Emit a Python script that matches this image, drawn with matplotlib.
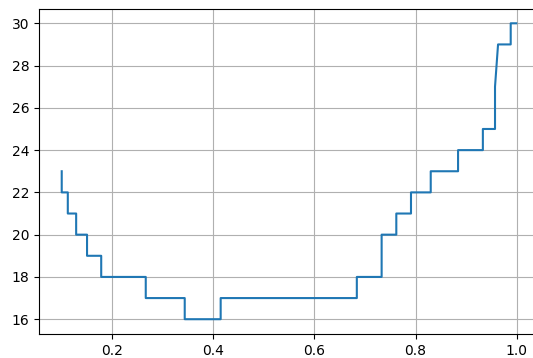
import matplotlib
matplotlib.use("Agg")
import matplotlib.pyplot as plt

# Вершины ступенчатой линии
x_vals = [0.101, 0.101, 0.113, 0.113, 0.1295, 0.1295, 0.151, 0.151, 0.179, 0.179,
          0.267, 0.267, 0.344, 0.344, 0.415, 0.415, 0.684, 0.684, 0.733, 0.733,
          0.762, 0.762, 0.791, 0.791, 0.830, 0.830, 0.884, 0.884, 0.933, 0.933,
          0.957, 0.957, 0.963, 0.988, 0.988, 0.999]
y_vals = [23, 22, 22, 21, 21, 20, 20, 19, 19, 18,
          18, 17, 17, 16, 16, 17, 17, 18, 18, 20,
          20, 21, 21, 22, 22, 23, 23, 24, 24, 25,
          25, 27, 29, 29, 30, 30]

fig = plt.figure(figsize=(5.33, 3.58), dpi=100)
# ось немного выходит за правый край, как на исходном скриншоте
ax = fig.add_axes((39 / 533, 24 / 358, 500 / 533, 325.5 / 358))

ax.plot(x_vals, y_vals, color="#1f77b4", linewidth=1.5)
ax.grid(True)
ax.set_xticks([0.2, 0.4, 0.6, 0.8, 1.0])
ax.set_yticks(range(16, 31, 2))
ax.tick_params(labelsize=10)

fig.savefig("out.png", dpi=100)
